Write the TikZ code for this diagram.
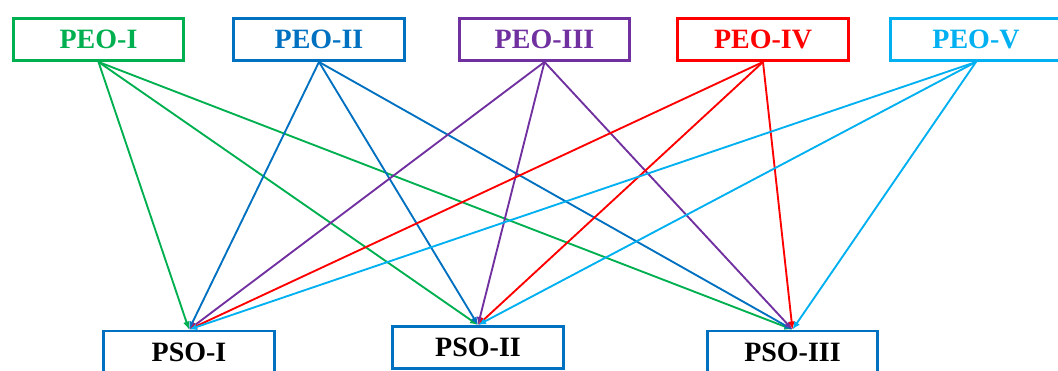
\documentclass[tikz,border=0pt]{standalone}
\usepackage{fontspec}
\setmainfont{Liberation Serif}
\usepackage{tikz}
\usetikzlibrary{arrows.meta}

\definecolor{cgreen}{RGB}{0,176,80}
\definecolor{cblue}{RGB}{0,112,192}
\definecolor{cpurple}{RGB}{112,48,160}
\definecolor{cred}{RGB}{255,0,0}
\definecolor{ccyan}{RGB}{0,176,240}

\tikzset{
  box/.style={draw, line width=2.2pt, minimum width=128pt, minimum height=31.5pt, inner sep=0pt,
              font=\fontsize{21}{24}\selectfont\bfseries},
  peo/.style={box, draw=#1, text=#1},
  pso/.style={box, draw=cblue, text=black},
  link/.style={#1, line width=1.4pt, -{Latex[length=6pt,width=5pt]}}
}

\begin{document}
\begin{tikzpicture}[x=0.75pt, y=-0.75pt]
\useasboundingbox (0,0) rectangle (1058,371);

% objectives (top row)
\node [peo=cgreen]  (peoI)   at (98.5,39.5) {PEO-I};
\node [peo=cblue]   (peoII)  at (319,39.5)  {PEO-II};
\node [peo=cpurple] (peoIII) at (544.5,39.5) {PEO-III};
\node [peo=cred]    (peoIV)  at (763,39.5)  {PEO-IV};
\node [peo=ccyan]   (peoV)   at (976,39.5)  {PEO-V};

% outcomes (bottom row)
\node [pso] (psoI)   at (189,352)   {PSO-I};
\node [pso] (psoII)  at (478,347.5) {PSO-II};
\node [pso] (psoIII) at (792.5,352) {PSO-III};

%------------------------------------------------------
% links
\foreach \src/\col in {peoI/cgreen, peoII/cblue, peoIII/cpurple, peoIV/cred, peoV/ccyan}
  \foreach \dst in {psoI, psoII, psoIII}
    \draw [link=\col] (\src.south) -- (\dst.north);

\end{tikzpicture}
\end{document}
